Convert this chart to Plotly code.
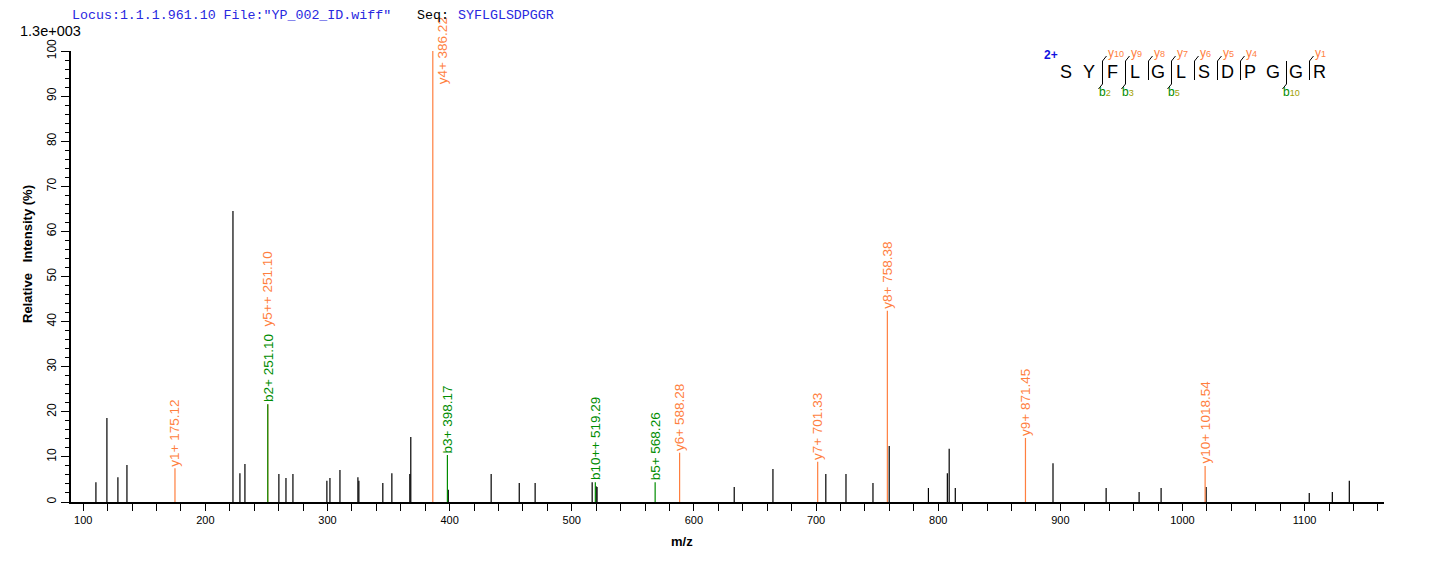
import plotly.graph_objects as go

# ---------------- data ----------------
# unannotated (black) peaks
peak_mz = [110.4, 119.4, 128.4, 135.8, 222.6, 228.3, 232.4, 260.2, 266.0, 271.7,
           299.5, 302.0, 310.2, 324.9, 325.7, 345.3, 352.7, 367.4, 368.2, 398.9,
           434.0, 457.0, 470.0, 516.7, 519.9, 520.7, 633.0, 664.7, 708.0, 724.5,
           746.6, 759.9, 792.0, 807.5, 809.0, 814.0, 894.0, 937.5, 964.5, 982.5,
           1019.4, 1103.8, 1122.7, 1136.6]
peak_int = [4.4, 18.6, 5.5, 8.2, 64.5, 6.4, 8.4, 6.2, 5.3, 6.2,
            4.7, 5.3, 7.1, 5.5, 4.7, 4.2, 6.4, 6.2, 14.4, 2.7,
            6.2, 4.2, 4.2, 4.4, 3.5, 3.3, 3.3, 7.3, 6.2, 6.2,
            4.2, 12.4, 3.1, 6.4, 11.8, 3.1, 8.6, 3.1, 2.2, 3.1,
            3.3, 2.0, 2.2, 4.7]

# annotated fragment ions
ion_mz = [175.12, 251.10, 251.10, 386.22, 398.17, 519.29, 568.26, 588.28,
          701.33, 758.38, 871.45, 1018.54]
ion_int = [7.5, 21.7, 21.7, 100.0, 10.4, 4.4, 4.4, 10.9,
           8.9, 42.4, 14.2, 8.0]
ion_label = ["y1+ 175.12", "b2+ 251.10", "y5++ 251.10", "y4+ 386.22", "b3+ 398.17",
             "b10++ 519.29", "b5+ 568.26", "y6+ 588.28", "y7+ 701.33", "y8+ 758.38",
             "y9+ 871.45", "y10+ 1018.54"]
ion_type = ["y", "b", "y", "y", "b", "b", "b", "y", "y", "y", "y", "y"]

sequence = "SYFLGLSDPGGR"
precursor_charge = "2+"
y_ions = [10, 9, 8, 7, 6, 5, 4, 1]
b_ions = [2, 3, 5, 10]

x_ticks = [100, 200, 300, 400, 500, 600, 700, 800, 900, 1000, 1100]
y_ticks = [0, 10, 20, 30, 40, 50, 60, 70, 80, 90, 100]

header_locus = 'Locus:1.1.1.961.10 File:"YP_002_ID.wiff"'
base_intensity = "1.3e+003"

# ---------------- style ----------------
OFF = 8  # page body margin
W, H = 1436 - OFF, 562 - OFF
PLOT_L, PLOT_R, PLOT_T, PLOT_B = 71, 1384, 51, 502  # in page pixels
ML, MT = PLOT_L - OFF, PLOT_T - OFF
MR, MB = W - (PLOT_R - OFF), H - (PLOT_B - OFF)
PW, PH = PLOT_R - PLOT_L, PLOT_B - PLOT_T
ORANGE = "#FF7F3F"
GREEN = "#008C00"
BLUE = "#2828E0"
COLORS = {"y": ORANGE, "b": GREEN}
SANS = "Liberation Sans, Arial, sans-serif"
MONO = "Liberation Mono, Courier New, monospace"


def px(x):
    return (x - PLOT_L) / PW


def py(y):
    return (PLOT_B - y) / PH


fig = go.Figure()


def sticks(xs, ys):
    X, Y = [], []
    for a, b in zip(xs, ys):
        X += [a, a, None]
        Y += [0, b, None]
    return X, Y


X, Y = sticks(peak_mz, peak_int)
fig.add_trace(go.Scatter(x=X, y=Y, mode="lines", line=dict(color="black", width=1.2),
                         hoverinfo="skip", showlegend=False))
for t in ("y", "b"):
    xs = [m for m, k in zip(ion_mz, ion_type) if k == t]
    ys = [v for v, k in zip(ion_int, ion_type) if k == t]
    X, Y = sticks(xs, ys)
    fig.add_trace(go.Scatter(x=X, y=Y, mode="lines", line=dict(color=COLORS[t], width=1.2),
                             hoverinfo="skip", showlegend=False))

annotations = []
seen = {}
for m, v, lab, t in zip(ion_mz, ion_int, ion_label, ion_type):
    k = seen.get(m, 0)
    seen[m] = k + 1
    if v > 90:
        annotations.append(dict(x=m, y=v, text=lab, textangle=-90, showarrow=False,
                                xanchor="left", yanchor="middle", xshift=1,
                                font=dict(family=SANS, size=13.5, color=COLORS[t]),
                                bgcolor="white", borderpad=0))
    else:
        annotations.append(dict(x=m, y=v, text=lab, textangle=-90, showarrow=False,
                                xanchor="center", yanchor="bottom", yshift=1 + 76 * k,
                                font=dict(family=SANS, size=13.5, color=COLORS[t]),
                                bgcolor="white", borderpad=0))

# header texts
annotations.append(dict(xref="paper", yref="paper", x=px(70), y=py(16), text=header_locus,
                        showarrow=False, xanchor="left", yanchor="middle",
                        font=dict(family=MONO, size=13.3, color=BLUE)))
annotations.append(dict(xref="paper", yref="paper", x=px(415), y=py(16), text="Seq:",
                        showarrow=False, xanchor="left", yanchor="middle",
                        font=dict(family=MONO, size=13.3, color="black")))
annotations.append(dict(xref="paper", yref="paper", x=px(456), y=py(16), text=sequence,
                        showarrow=False, xanchor="left", yanchor="middle",
                        font=dict(family=MONO, size=13.3, color=BLUE)))
annotations.append(dict(xref="paper", yref="paper", x=px(18), y=py(31), text=base_intensity,
                        showarrow=False, xanchor="left", yanchor="middle",
                        font=dict(family=SANS, size=14.5, color="black")))
# axis titles
annotations.append(dict(xref="paper", yref="paper", x=px(28), y=py(254),
                        text="<b>Relative   Intensity (%)</b>", textangle=-90,
                        showarrow=False, xanchor="center", yanchor="middle",
                        font=dict(family=SANS, size=13, color="black")))
annotations.append(dict(xref="paper", yref="paper", x=px(682), y=py(541), text="<b>m/z</b>",
                        showarrow=False, xanchor="center", yanchor="middle",
                        font=dict(family=SANS, size=13, color="black")))

# sequence panel (pixel layout)
shapes = []
L0, STEP, LY = 1066, 23.0, 72
annotations.append(dict(xref="paper", yref="paper", x=px(1051), y=py(55), text="<b>%s</b>" % precursor_charge,
                        showarrow=False, xanchor="center", yanchor="middle",
                        font=dict(family=SANS, size=12, color="#1010E0")))
n = len(sequence)
for i, aa in enumerate(sequence):
    annotations.append(dict(xref="paper", yref="paper", x=px(L0 + i * STEP), y=py(LY), text=aa,
                            showarrow=False, xanchor="center", yanchor="middle",
                            font=dict(family=SANS, size=18, color="black")))


def line(x0, y0, x1, y1):
    shapes.append(dict(type="line", xref="paper", yref="paper", x0=px(x0), y0=py(y0),
                       x1=px(x1), y1=py(y1), line=dict(color="black", width=1)))


for cut in range(1, n):
    yi = n - cut
    has_y = yi in y_ions
    has_b = cut in b_ions
    if not (has_y or has_b):
        continue
    sx = L0 + (cut - 0.5) * STEP + 2
    top, bot = 61, 80
    if has_b:
        bot = 84
    line(sx, top, sx, bot)
    if has_y:
        line(sx, top, sx + 4, 56)
        annotations.append(dict(xref="paper", yref="paper", x=px(sx + 3), y=py(53),
                                text="y<span style='font-size:9px'>%d</span>" % yi,
                                showarrow=False, xanchor="left", yanchor="middle",
                                font=dict(family=SANS, size=12, color=ORANGE)))
    if has_b:
        line(sx, bot, sx - 4, 89)
        annotations.append(dict(xref="paper", yref="paper", x=px(sx - 6), y=py(92),
                                text="b<span style='font-size:9px;color:#A0A000'>%d</span>" % cut,
                                showarrow=False, xanchor="left", yanchor="middle",
                                font=dict(family=SANS, size=12, color=GREEN)))

fig.update_layout(
    width=W, height=H,
    margin=dict(l=ML, r=MR, t=MT, b=MB, pad=0),
    paper_bgcolor="white", plot_bgcolor="white",
    showlegend=False,
    annotations=annotations,
    shapes=shapes,
    xaxis=dict(range=[90, 1165], tickmode="array", tickvals=x_ticks,
               ticktext=[str(v) for v in x_ticks],
               ticks="outside", ticklen=7, tickcolor="black", tickwidth=1,
               minor=dict(dtick=20, tick0=100, ticks="outside", ticklen=7, tickcolor="black", showgrid=False),
               showline=True, linecolor="black", linewidth=1.5, showgrid=False, zeroline=False,
               tickfont=dict(family=SANS, size=11, color="black")),
    yaxis=dict(range=[0, 100], tickmode="array", tickvals=y_ticks,
               ticktext=[str(v) for v in y_ticks], tickangle=-90,
               ticks="outside", ticklen=8, tickcolor="black", tickwidth=1,
               minor=dict(dtick=2, tick0=0, ticks="outside", ticklen=4, tickcolor="black", showgrid=False),
               showline=True, linecolor="black", linewidth=1.5, showgrid=False, zeroline=False,
               tickfont=dict(family=SANS, size=12, color="black")),
)

fig.write_html("out.html")
